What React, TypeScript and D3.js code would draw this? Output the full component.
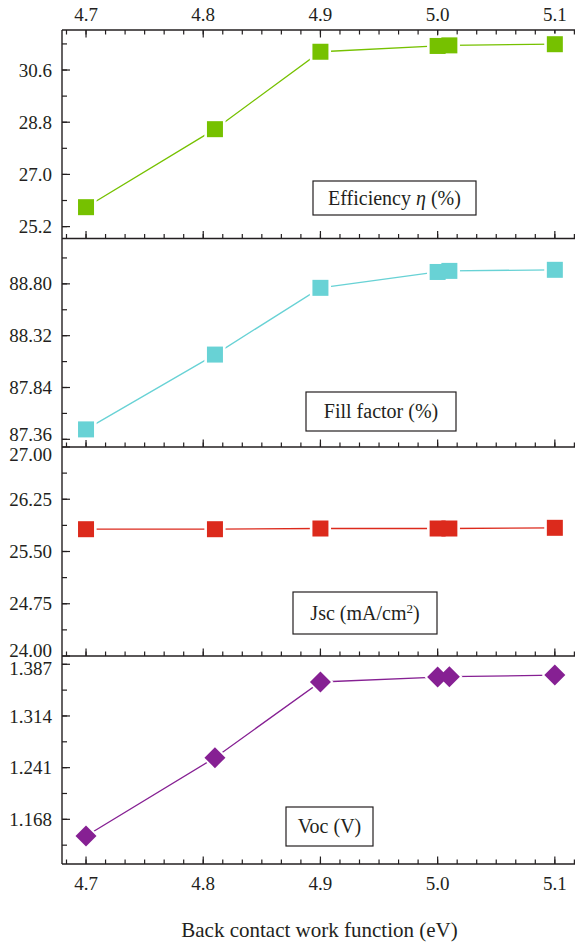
import * as d3 from 'd3';

// x values (back contact work function, eV)
const workFunction = [4.7, 4.81, 4.9, 5.0, 5.01, 5.1];
// series
const efficiency = [25.87, 28.56, 31.23, 31.43, 31.45, 31.49];
const fillFactor = [87.452, 88.145, 88.763, 88.91, 88.92, 88.93];
const jsc = [25.82, 25.82, 25.83, 25.83, 25.83, 25.84];
const voc = [1.1444, 1.2551, 1.362, 1.369, 1.3695, 1.3717];

// tick labels
const xTicks = [4.7, 4.8, 4.9, 5.0, 5.1];
const effTicks = [25.2, 27.0, 28.8, 30.6];
const ffTicks = [87.36, 87.84, 88.32, 88.8];
const jscTicks = [24.0, 24.75, 25.5, 26.25, 27.0];
const vocTicks = [1.168, 1.241, 1.314, 1.387];

const W = 575;
const H = 945;
const left = 62;
const right = 575;
const bounds = [30, 238.5, 447, 656, 864];
const FONT = '"Liberation Serif", "Times New Roman", serif';
const AXIS = '#231f20';

type Panel = {
  key: string;
  values: number[];
  domain: [number, number];
  ticks: number[];
  digits: number;
  color: string;
  marker: 'square' | 'diamond';
  label: 'eff' | 'ff' | 'jsc' | 'voc';
  box: [number, number, number, number];
  // nudges for labels sitting on a panel border (first/last tick)
  nudge: [number, number];
};

const panels: Panel[] = [
  { key: 'eff', values: efficiency, domain: [24.79, 31.98], ticks: effTicks, digits: 1, color: '#76c100', marker: 'square', label: 'eff', box: [313, 181, 476, 215], nudge: [0, 0] },
  { key: 'ff', values: fillFactor, domain: [87.289, 89.22], ticks: ffTicks, digits: 2, color: '#68d2d5', marker: 'square', label: 'ff', box: [306, 392, 456, 431], nudge: [-5, 0] },
  { key: 'jsc', values: jsc, domain: [24, 27], ticks: jscTicks, digits: 2, color: '#dc2a1c', marker: 'square', label: 'jsc', box: [293, 592, 437, 634], nudge: [-6, 7] },
  { key: 'voc', values: voc, domain: [1.1049, 1.3987], ticks: vocTicks, digits: 3, color: '#862093', marker: 'diamond', label: 'voc', box: [286, 807, 373, 846], nudge: [0, 4] },
];

const x = d3.scaleLinear().domain([4.6795, 5.1172]).range([left, right]);
const xMinor = d3.range(4.7 - 0.1 / 6, 5.1172, 0.1 / 6).filter((v) => x(v) > left + 1);

function LegendText({ label }: { label: Panel['label'] }) {
  if (label === 'eff')
    return (
      <>
        Efficiency <tspan fontStyle="italic">η</tspan> (%)
      </>
    );
  if (label === 'ff') return <>Fill factor (%)</>;
  if (label === 'jsc')
    return (
      <>
        Jsc (mA/cm<tspan dy={-7} fontSize={13}>2</tspan>
        <tspan dy={7}>)</tspan>
      </>
    );
  return <>Voc (V)</>;
}

export default function App() {
  return (
    <svg
      width={W}
      height={H}
      style={{ display: 'block', position: 'absolute', left: 0, top: 0, background: '#fff' }}
      fontFamily={FONT}
    >
      {panels.map((p, i) => {
        const top = bounds[i];
        const bottom = bounds[i + 1];
        const y = d3.scaleLinear().domain(p.domain).range([bottom, top]);
        const step = p.ticks[1] - p.ticks[0];
        const yMinor = d3
          .range(p.ticks[0] - step * 2, p.domain[1], step / 2)
          .filter((v) => y(v) < bottom - 1 && y(v) > top + 1);
        const pts = workFunction.map((w, j) => [x(w), y(p.values[j])] as [number, number]);
        const line = d3.line()(pts) ?? '';
        const s = 16;
        const r = 10.5;
        const shape = (cx: number, cy: number, pad: number) =>
          p.marker === 'square' ? (
            <rect x={cx - s / 2 - pad} y={cy - s / 2 - pad} width={s + pad * 2} height={s + pad * 2} />
          ) : (
            <path d={`M${cx},${cy - r - pad}L${cx + r + pad},${cy}L${cx},${cy + r + pad}L${cx - r - pad},${cy}Z`} />
          );
        const [bx0, by0, bx1, by1] = p.box;
        return (
          <g key={p.key}>
            {/* y ticks */}
            {yMinor.map((v) => (
              <line key={'m' + v} x1={left} x2={left + 5} y1={y(v)} y2={y(v)} stroke={AXIS} strokeWidth={1.2} />
            ))}
            {p.ticks.map((v, k) => {
              const shift = k === 0 ? p.nudge[0] : k === p.ticks.length - 1 ? p.nudge[1] : 0;
              return (
                <g key={'t' + v}>
                  <line x1={left} x2={left + 8} y1={y(v)} y2={y(v)} stroke={AXIS} strokeWidth={1.2} />
                  <text x={left - 10} y={y(v) + shift} dy="0.35em" textAnchor="end" fontSize={19} fill="#231f20">
                    {v.toFixed(p.digits)}
                  </text>
                </g>
              );
            })}
            {/* x ticks at bottom of every panel, pointing up */}
            {xMinor.map((v) => (
              <line key={'xm' + v} x1={x(v)} x2={x(v)} y1={bottom} y2={bottom - 4.5} stroke={AXIS} strokeWidth={1.2} />
            ))}
            {xTicks.map((v) => (
              <line key={'xt' + v} x1={x(v)} x2={x(v)} y1={bottom} y2={bottom - 7.5} stroke={AXIS} strokeWidth={1.2} />
            ))}
            {i === 0 && (
              <g>
                {xMinor.map((v) => (
                  <line key={'tm' + v} x1={x(v)} x2={x(v)} y1={top} y2={top + 4.5} stroke={AXIS} strokeWidth={1.2} />
                ))}
                {xTicks.map((v) => (
                  <g key={'tt' + v}>
                    <line x1={x(v)} x2={x(v)} y1={top} y2={top + 7.5} stroke={AXIS} strokeWidth={1.2} />
                    <text x={x(v)} y={top - 9.5} textAnchor="middle" fontSize={19} fill="#231f20">
                      {v.toFixed(1)}
                    </text>
                  </g>
                ))}
                <line x1={left} x2={right} y1={top} y2={top} stroke={AXIS} strokeWidth={1.4} />
              </g>
            )}
            <line x1={left} x2={right} y1={bottom} y2={bottom} stroke={AXIS} strokeWidth={1.4} />
            {/* series */}
            <path d={line} fill="none" stroke={p.color} strokeWidth={1.3} />
            <g fill="#fff">{pts.map(([cx, cy], j) => <g key={j}>{shape(cx, cy, 2.6)}</g>)}</g>
            <g fill={p.color}>{pts.map(([cx, cy], j) => <g key={j}>{shape(cx, cy, 0)}</g>)}</g>
            {/* legend box */}
            <rect x={bx0} y={by0} width={bx1 - bx0} height={by1 - by0} fill="#fff" stroke="#231f20" strokeWidth={1.2} />
            <text x={(bx0 + bx1) / 2} y={(by0 + by1) / 2 + 6.5} textAnchor="middle" fontSize={20} fill="#231f20">
              <LegendText label={p.label} />
            </text>
          </g>
        );
      })}
      <line x1={left} x2={left} y1={bounds[0]} y2={bounds[4]} stroke={AXIS} strokeWidth={1.4} />
      {xTicks.map((v) => (
        <text key={'bx' + v} x={x(v)} y={890} textAnchor="middle" fontSize={19} fill="#231f20">
          {v.toFixed(1)}
        </text>
      ))}
      <text x={(left + right) / 2 + 1} y={937} textAnchor="middle" fontSize={21} fill="#231f20">
        Back contact work function (eV)
      </text>
    </svg>
  );
}
